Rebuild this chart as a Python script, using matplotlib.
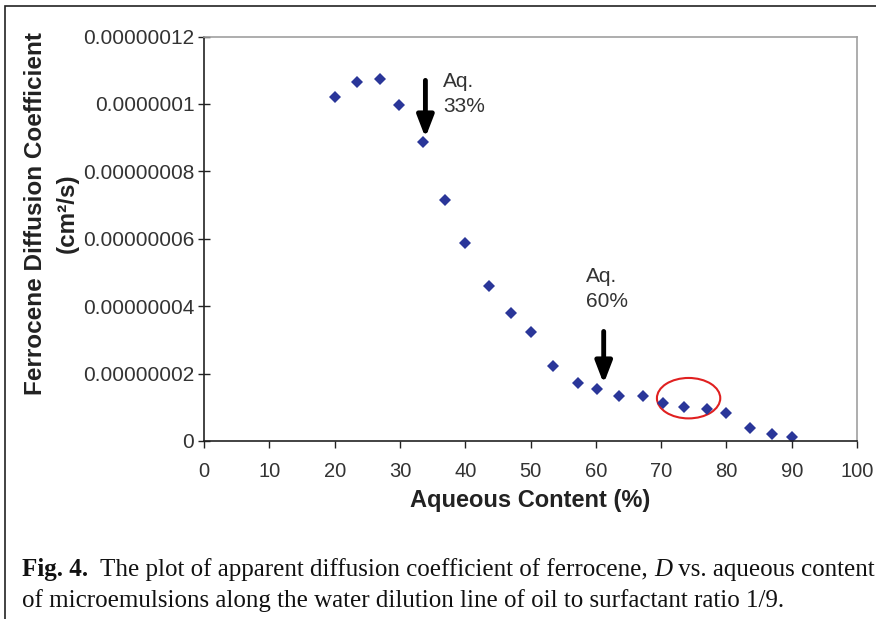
import matplotlib
matplotlib.use("Agg")
import matplotlib.pyplot as plt
from matplotlib.patches import Ellipse, Rectangle
from matplotlib.ticker import FixedLocator, FixedFormatter

# aqueous content (%) and apparent diffusion coefficient (cm^2/s)
aqueous = [20.1, 23.5, 27.0, 29.9, 33.6, 36.9, 40.0, 43.6, 47.0, 50.1, 53.4,
           57.2, 60.2, 63.5, 67.2, 70.3, 73.5, 77.0, 79.9, 83.6, 87.0, 90.0]
diff_coef = [1.022e-7, 1.065e-7, 1.075e-7, 0.996e-7, 0.886e-7, 0.714e-7,
             0.588e-7, 0.459e-7, 0.380e-7, 0.323e-7, 0.222e-7, 0.173e-7,
             0.153e-7, 0.134e-7, 0.134e-7, 0.112e-7, 0.101e-7, 0.095e-7,
             0.082e-7, 0.038e-7, 0.020e-7, 0.011e-7]

y_ticks = [0, 2e-8, 4e-8, 6e-8, 8e-8, 1e-7, 1.2e-7]
y_labels = ["0", "0.00000002", "0.00000004", "0.00000006",
            "0.00000008", "0.0000001", "0.00000012"]
x_ticks = list(range(0, 101, 10))

SANS = "Liberation Sans"
SERIF = "Liberation Serif"
TXT = "#333333"

fig = plt.figure(figsize=(8.76, 6.19), dpi=100)
ax = fig.add_axes([0.2329, 0.2876, 0.7455, 0.6533])

ax.plot(aqueous, diff_coef, linestyle="none", marker="D", markersize=6,
        color="#2a3699", markeredgewidth=0)

ax.set_xlim(0, 100)
ax.set_ylim(0, 1.2e-7)
ax.xaxis.set_major_locator(FixedLocator(x_ticks))
ax.yaxis.set_major_locator(FixedLocator(y_ticks))
ax.yaxis.set_major_formatter(FixedFormatter(y_labels))
for lab in ax.get_xticklabels():
    lab.set_fontfamily(SANS)
    lab.set_fontsize(14.5)
    lab.set_color(TXT)
for lab in ax.get_yticklabels():
    lab.set_fontfamily(SANS)
    lab.set_fontsize(15)
    lab.set_color(TXT)
ax.tick_params(axis="x", direction="out", length=5, width=1, color="#222222", pad=10)
ax.tick_params(axis="y", direction="inout", length=8, width=1, color="#222222", pad=3)

for side in ["left", "bottom"]:
    ax.spines[side].set_color("#222222")
    ax.spines[side].set_linewidth(1.2)
for side in ["right", "top"]:
    ax.spines[side].set_color("#a0a0a0")
    ax.spines[side].set_linewidth(1.2)

ax.set_xlabel("Aqueous Content (%)", fontfamily=SANS, fontsize=17,
              fontweight="bold", color="#222222", labelpad=6)

# y label in two lines
fig.text(0.040, 0.655, "Ferrocene Diffusion Coefficient", rotation=90,
         ha="center", va="center", fontfamily=SANS, fontsize=17.5,
         fontweight="bold", color="#222222")
fig.text(0.077, 0.655, "(cm²/s)", rotation=90, ha="center", va="center",
         fontfamily=SANS, fontsize=17.5, fontweight="bold", color="#222222")

# arrows and notes
arrow = dict(arrowstyle="-|>,head_width=0.5,head_length=1.3", color="black",
             lw=3.5, shrinkA=0, shrinkB=0)
ax.annotate("", xy=(33.9, 0.90e-7), xytext=(33.9, 1.07e-7), arrowprops=arrow)
ax.annotate("", xy=(61.2, 0.17e-7), xytext=(61.2, 0.325e-7), arrowprops=arrow)
ax.text(36.6, 1.095e-7, "Aq.\n33%", ha="left", va="top", fontfamily=SANS,
        fontsize=15, color=TXT, linespacing=1.4)
ax.text(58.5, 0.517e-7, "Aq.\n60%", ha="left", va="top", fontfamily=SANS,
        fontsize=15, color=TXT, linespacing=1.4)

ax.add_patch(Ellipse((74.2, 0.127e-7), 9.7, 1.2e-8, fill=False,
                     edgecolor="#e02020", linewidth=1.5))

# page frame
fig.add_artist(Rectangle((5 / 876, -0.1), 2.0, 1.1 - 6 / 619, transform=fig.transFigure,
                         fill=False, edgecolor="#222222", linewidth=1.2))

# caption drawn piece by piece
fig.canvas.draw()
renderer = fig.canvas.get_renderer()


def put_line(pieces, x_px, y_px, size=18):
    x = x_px
    for txt, weight, style in pieces:
        t = fig.text(x / 876, 1 - y_px / 619, txt, fontfamily=SERIF, fontsize=size,
                     fontweight=weight, fontstyle=style, color="#111111",
                     ha="left", va="baseline")
        bb = t.get_window_extent(renderer)
        x = bb.x1


put_line([("Fig. 4.", "bold", "normal"),
          ("  The plot of apparent diffusion coefficient of ferrocene, ", "normal", "normal"),
          ("D", "normal", "italic"),
          (" vs. aqueous content", "normal", "normal")], 22, 576)
put_line([("of microemulsions along the water dilution line of oil to surfactant ratio 1/9.",
           "normal", "normal")], 22, 607)

fig.savefig("out.png", dpi=100)
